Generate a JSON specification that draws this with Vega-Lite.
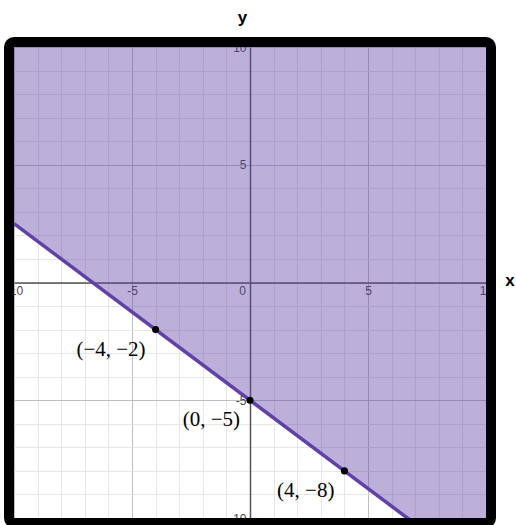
{
  "$schema": "https://vega.github.io/schema/vega-lite/v6.json",
  "width": 472,
  "height": 471,
  "autosize": {"type": "none"},
  "padding": {"left": 14, "top": 47, "right": 30, "bottom": 7},
  "background": "white",
  "config": {"view": {"stroke": null}},
  "datasets": {
    "boundary": [{"x": -10, "y": 2.5}, {"x": 10, "y": -12.5}],
    "points": [
      {"x": -4, "y": -2, "label": "(−4, −2)"},
      {"x": 0, "y": -5, "label": "(0, −5)"},
      {"x": 4, "y": -8, "label": "(4, −8)"}
    ],
    "frame": [{"x": -10, "x_end": 10, "y": -10, "y_end": 10}]
  },
  "encoding": {
    "x": {
      "field": "x",
      "type": "quantitative",
      "scale": {"domain": [-10, 10], "nice": false, "zero": false},
      "axis": {
        "values": [-10, -9, -8, -7, -6, -5, -4, -3, -2, -1, 0, 1, 2, 3, 4, 5, 6, 7, 8, 9, 10],
        "orient": "bottom",
        "offset": -235.5,
        "grid": true,
        "gridColor": {"condition": {"test": "datum.value % 5 === 0", "value": "#bdbdbd"}, "value": "#e6e6e6"},
        "gridWidth": 1,
        "ticks": false,
        "domainColor": "#555555",
        "domainWidth": 1.5,
        "labelExpr": "datum.value % 5 === 0 ? '' + datum.value : ''",
        "labelFont": "Liberation Sans",
        "labelFontSize": 12,
        "labelColor": "#444444",
        "labelPadding": 3,
        "labelFlush": false,
        "labelOverlap": false,
        "labelOffset": {"condition": {"test": "datum.value === 0", "value": -8}, "value": 0},
        "title": "x",
        "titleX": 495.5,
        "titleY": -2,
        "titleAngle": 0,
        "titleAlign": "center",
        "titleBaseline": "middle",
        "titleFont": "Liberation Sans",
        "titleFontSize": 17,
        "titleFontWeight": "bold",
        "titleColor": "black"
      }
    },
    "y": {
      "field": "y",
      "type": "quantitative",
      "scale": {"domain": [-10, 10], "nice": false, "zero": false},
      "axis": {
        "values": [-10, -9, -8, -7, -6, -5, -4, -3, -2, -1, 0, 1, 2, 3, 4, 5, 6, 7, 8, 9, 10],
        "orient": "left",
        "offset": -236,
        "grid": true,
        "gridColor": {"condition": {"test": "datum.value % 5 === 0", "value": "#bdbdbd"}, "value": "#e6e6e6"},
        "gridWidth": 1,
        "ticks": false,
        "domainColor": "#555555",
        "domainWidth": 1.5,
        "labelExpr": "datum.value % 5 === 0 && datum.value !== 0 ? '' + datum.value : ''",
        "labelFont": "Liberation Sans",
        "labelFontSize": 12,
        "labelColor": "#444444",
        "labelPadding": 4,
        "labelFlush": false,
        "labelOverlap": false,
        "title": "y",
        "titleX": -8,
        "titleY": -30,
        "titleAngle": 0,
        "titleAlign": "center",
        "titleBaseline": "middle",
        "titleFont": "Liberation Sans",
        "titleFontSize": 17,
        "titleFontWeight": "bold",
        "titleColor": "black"
      }
    }
  },
  "layer": [
    {
      "data": {"name": "boundary"},
      "mark": {"type": "area", "color": "#6042a6", "opacity": 0.42, "clip": true},
      "encoding": {"y2": {"datum": 10}}
    },
    {
      "data": {"name": "boundary"},
      "mark": {"type": "line", "color": "#6042a6", "strokeWidth": 3.5, "clip": true},
      "encoding": {}
    },
    {
      "data": {"name": "points"},
      "mark": {"type": "circle", "color": "black", "size": 50, "opacity": 1},
      "encoding": {}
    },
    {
      "data": {"name": "points"},
      "mark": {"type": "text", "font": "Liberation Serif", "fontSize": 21, "align": "right", "baseline": "middle", "dx": -10, "dy": 20, "color": "black"},
      "encoding": {"text": {"field": "label"}}
    },
    {
      "data": {"name": "frame"},
      "mark": {"type": "rect", "fill": "white", "fillOpacity": 0, "stroke": "black", "strokeWidth": 10, "cornerRadius": 5, "xOffset": -5, "x2Offset": 5, "yOffset": 5, "y2Offset": -5, "clip": false},
      "encoding": {
        "x2": {"field": "x_end"},
        "y2": {"field": "y_end"}
      }
    }
  ]
}
